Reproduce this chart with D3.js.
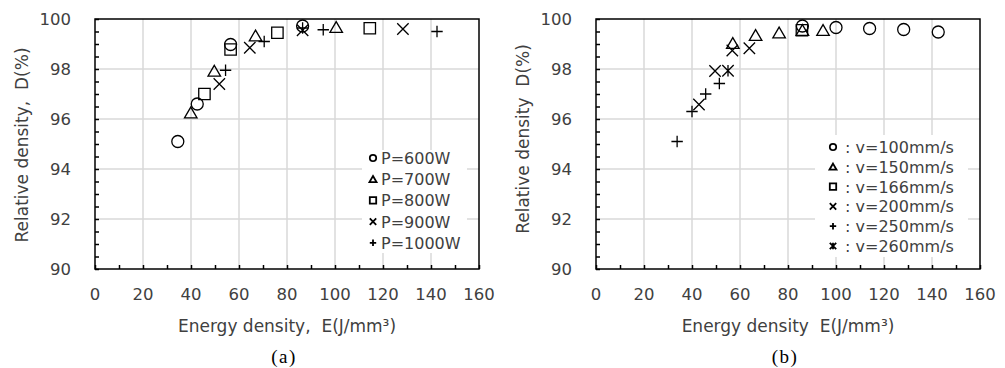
<!DOCTYPE html>
<html>
<head>
<meta charset="utf-8">
<script src="https://cdn.jsdelivr.net/npm/d3@7"></script>
<style>
  body { margin: 0; background: #fff; }
  svg text { font-family: "DejaVu Sans", sans-serif; }
</style>
</head>
<body>
<svg id="fig" width="1005" height="368"></svg>
<script>
// panel (a): energy density E (J/mm3) vs relative density D (%), by laser power
const p600  = [[34.5, 95.1], [42.6, 96.6], [56.5, 98.98], [86.5, 99.72]];
const p700  = [[39.9, 96.25], [49.7, 97.92], [66.9, 99.33], [100.5, 99.67]];
const p800  = [[45.6, 97.0], [56.5, 98.78], [76, 99.45], [114.5, 99.63]];
const p900  = [[51.8, 97.4], [64.5, 98.85], [86.5, 99.55], [128.3, 99.6]];
const p1000 = [[54.4, 97.95], [70.5, 99.1], [86.5, 99.64], [95.1, 99.57], [142.5, 99.5]];

// panel (b): same, by scan speed
const v100 = [[86, 99.72], [100, 99.66], [114, 99.62], [128.2, 99.58], [142.6, 99.48]];
const v150 = [[57, 99.03], [66.5, 99.35], [76.3, 99.45], [86, 99.55], [94.6, 99.55]];
const v166 = [[85.8, 99.55]];
const v200 = [[42.9, 96.58], [49.6, 97.92], [56.8, 98.74], [63.9, 98.83]];
const v250 = [[33.8, 95.1], [40, 96.3], [45.7, 97.0], [51.4, 97.42]];
const v260 = [[55, 97.93]];

const legendA = ["P=600W", "P=700W", "P=800W", "P=900W", "P=1000W"];
const legendB = [" : v=100mm/s", " : v=150mm/s", " : v=166mm/s", " : v=200mm/s", " : v=250mm/s", " : v=260mm/s"];

const xTicks = [0, 20, 40, 60, 80, 100, 120, 140, 160];
const yTicks = [90, 92, 94, 96, 98, 100];

const svg = d3.select("#fig");
svg.append("rect").attr("width", 1005).attr("height", 368).attr("fill", "#fff");

// marker shapes, s = half size
function markerPath(type, s) {
  const p = d3.path();
  if (type == "circle") {
    p.moveTo(s, 0); p.arc(0, 0, s, 0, 2 * Math.PI);
  } else if (type == "triangle") {
    p.moveTo(0, -s); p.lineTo(s * 1.1, s * 0.9); p.lineTo(-s * 1.1, s * 0.9); p.closePath();
  } else if (type == "square") {
    p.rect(-s, -s, 2 * s, 2 * s);
  } else if (type == "x") {
    p.moveTo(-s, -s); p.lineTo(s, s); p.moveTo(s, -s); p.lineTo(-s, s);
  } else if (type == "plus") {
    p.moveTo(-s, 0); p.lineTo(s, 0); p.moveTo(0, -s); p.lineTo(0, s);
  } else if (type == "star") {
    p.moveTo(-s, -s); p.lineTo(s, s); p.moveTo(s, -s); p.lineTo(-s, s);
    p.moveTo(0, -s); p.lineTo(0, s);
  }
  return p.toString();
}

function drawPanel(opt) {
  const g = svg.append("g");
  const x = d3.scaleLinear().domain([0, 160]).range([opt.left, opt.left + 384]);
  const y = d3.scaleLinear().domain([90, 100]).range([269, 19]);

  // grid
  g.selectAll(".gx").data(xTicks.slice(1, -1)).enter().append("line")
    .attr("x1", d => x(d)).attr("x2", d => x(d)).attr("y1", 19).attr("y2", 269)
    .attr("stroke", "#d9d9d9").attr("stroke-width", 1.5);
  g.selectAll(".gy").data(yTicks.slice(1, -1)).enter().append("line")
    .attr("x1", x(0)).attr("x2", x(160)).attr("y1", d => y(d)).attr("y2", d => y(d))
    .attr("stroke", "#d9d9d9").attr("stroke-width", 1.5);

  // legend background hides grid
  g.append("rect")
    .attr("x", opt.legBox[0]).attr("y", opt.legBox[1])
    .attr("width", opt.legBox[2]).attr("height", opt.legBox[3])
    .attr("fill", "#fff");

  // minor ticks, inside
  const minorY = d3.range(90, 100.01, 0.5);
  const minorX = d3.range(0, 160.01, 10);
  const ax = g.append("g").attr("transform", "translate(" + x(0) + ",0)")
    .call(d3.axisLeft(y).tickValues(minorY).tickSizeInner(-4).tickSizeOuter(0).tickFormat(""));
  const bx = g.append("g").attr("transform", "translate(0,269)")
    .call(d3.axisBottom(x).tickValues(minorX).tickSizeInner(-4).tickSizeOuter(0).tickFormat(""));
  [ax, bx].forEach(a => {
    a.select(".domain").remove();
    a.selectAll("line").attr("stroke", "#000").attr("stroke-width", 1.5);
  });

  // frame
  g.append("rect").attr("x", x(0)).attr("y", 19).attr("width", 384).attr("height", 250)
    .attr("fill", "none").attr("stroke", "#000").attr("stroke-width", 1.5);

  // tick labels
  g.selectAll(".ty").data(yTicks).enter().append("text")
    .attr("x", x(0) - 24).attr("y", d => y(d) + 6)
    .attr("text-anchor", "end").attr("font-size", 16.5).attr("fill", "#404040")
    .text(d => d);
  g.selectAll(".tx").data(xTicks).enter().append("text")
    .attr("x", d => x(d)).attr("y", 300)
    .attr("text-anchor", "middle").attr("font-size", 16.5).attr("fill", "#404040")
    .text(d => d);

  // axis titles
  g.append("text")
    .attr("transform", "translate(" + (x(0) - 67) + "," + opt.yTitleY + ") rotate(-90)")
    .attr("text-anchor", "middle").attr("font-size", 17).attr("fill", "#404040")
    .attr("xml:space", "preserve")
    .text(opt.yTitle);
  g.append("text")
    .attr("x", x(80)).attr("y", 332)
    .attr("text-anchor", "middle").attr("font-size", 17).attr("fill", "#404040")
    .attr("xml:space", "preserve")
    .text(opt.xTitle);

  g.append("text")
    .attr("x", x(80) - 3).attr("y", 363)
    .attr("text-anchor", "middle").attr("font-size", 19)
    .attr("letter-spacing", 1.5)
    .style("font-family", "'Liberation Serif', serif").attr("fill", "#000")
    .text(opt.caption);

  // points
  opt.series.forEach(s => {
    g.selectAll(null).data(s.data).enter().append("path")
      .attr("transform", d => "translate(" + x(d[0]) + "," + y(d[1]) + ")")
      .attr("d", markerPath(s.type, s.type == "circle" ? 6 : 5.7))
      .attr("fill", "none").attr("stroke", "#000").attr("stroke-width", 1.3);
  });

  // legend
  opt.series.forEach((s, i) => {
    const ly = opt.legY0 + i * opt.legStep;
    g.append("path")
      .attr("transform", "translate(" + opt.legMarkX + "," + ly + ")")
      .attr("d", markerPath(s.type, 3.2))
      .attr("fill", "none").attr("stroke", "#000").attr("stroke-width", 1.8);
    g.append("text")
      .attr("x", opt.legTextX).attr("y", ly + 6)
      .attr("font-size", 16).attr("fill", "#404040")
      .attr("xml:space", "preserve")
      .text(opt.labels[i]);
  });
}

drawPanel({
  left: 95,
  series: [
    {data: p600, type: "circle"},
    {data: p700, type: "triangle"},
    {data: p800, type: "square"},
    {data: p900, type: "x"},
    {data: p1000, type: "plus"}
  ],
  labels: legendA,
  legBox: [362, 150, 105, 103],
  legY0: 158, legStep: 21.2, legMarkX: 373, legTextX: 381,
  yTitle: "Relative density,  D(%)", yTitleY: 145,
  xTitle: "Energy density,  E(J/mm³)",
  caption: "(a)"
});

drawPanel({
  left: 596,
  series: [
    {data: v100, type: "circle"},
    {data: v150, type: "triangle"},
    {data: v166, type: "square"},
    {data: v200, type: "x"},
    {data: v250, type: "plus"},
    {data: v260, type: "star"}
  ],
  labels: legendB,
  legBox: [815, 135, 153, 122],
  legY0: 147, legStep: 19.8, legMarkX: 833, legTextX: 840,
  yTitle: "Relative density  D(%)", yTitleY: 139,
  xTitle: "Energy density  E(J/mm³)",
  caption: "(b)"
});
</script>
</body>
</html>
